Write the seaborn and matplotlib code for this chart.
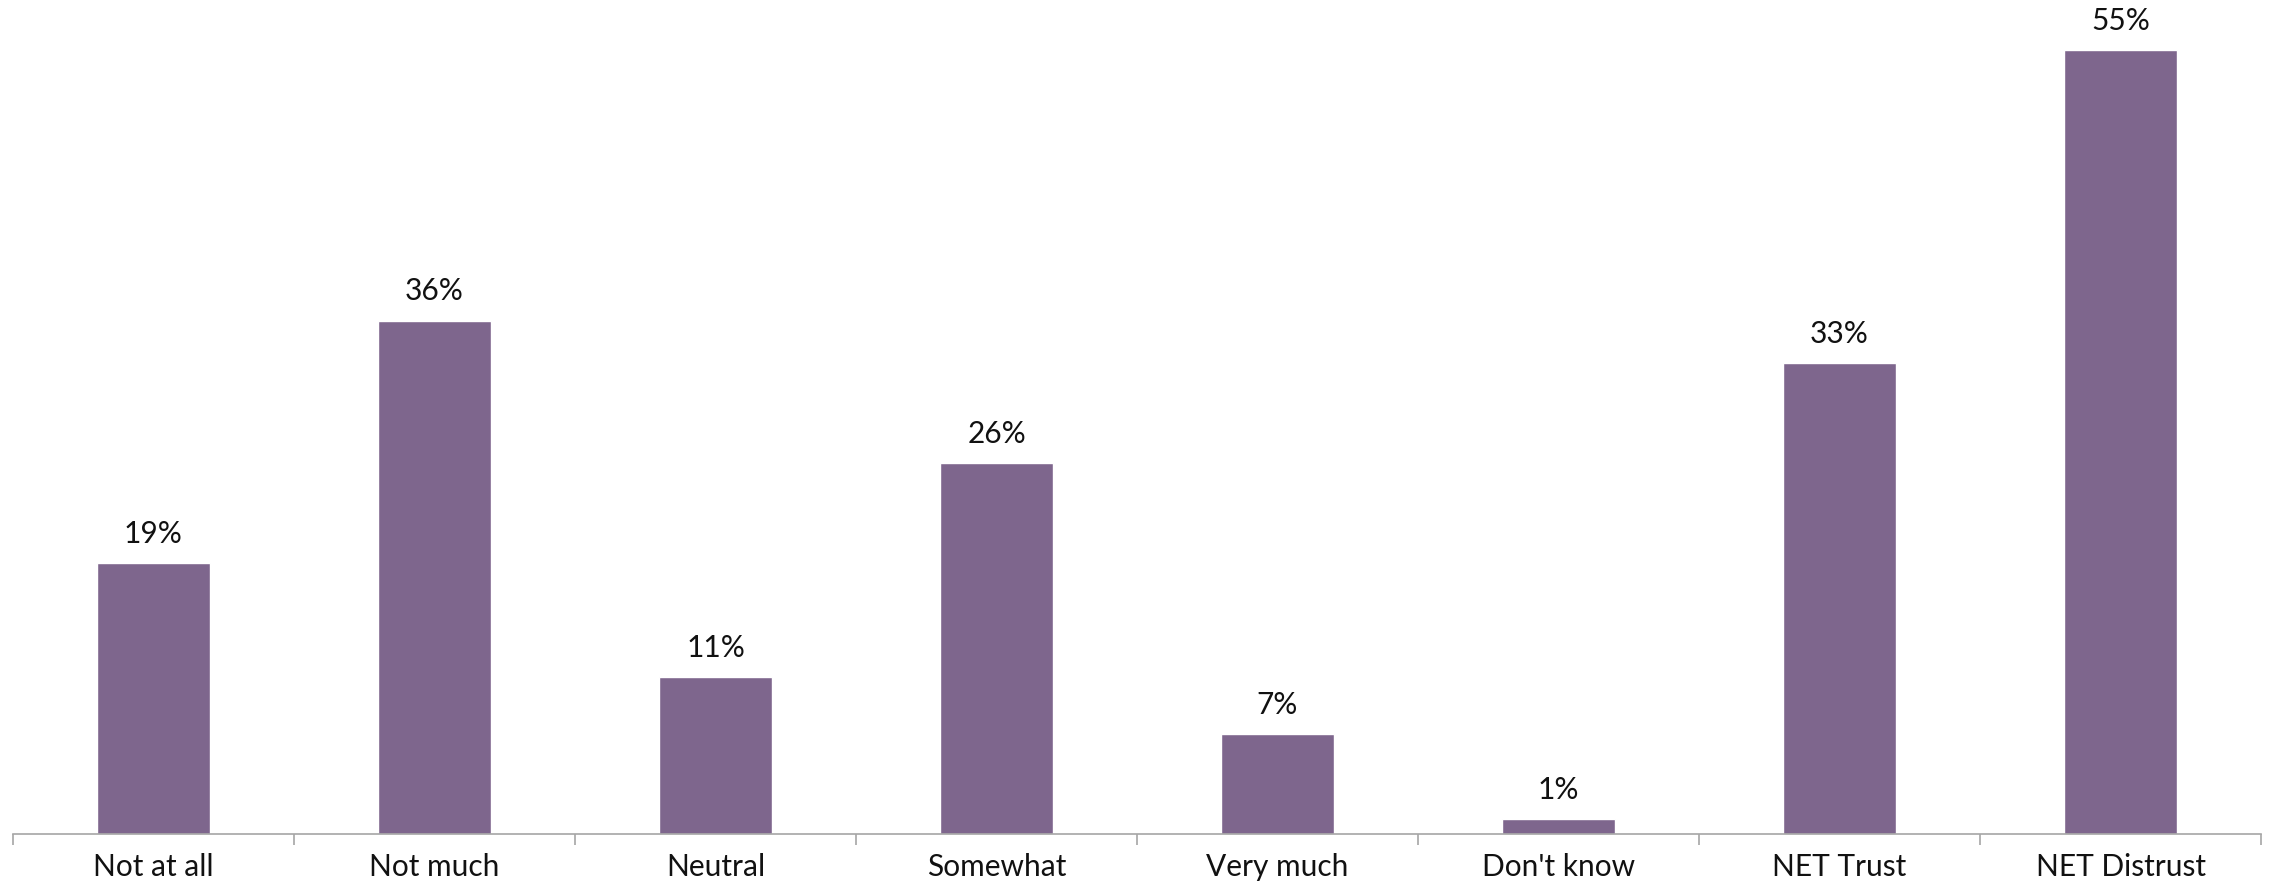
import pandas as pd
import matplotlib.pyplot as plt
import seaborn as sns

# --- data ---
categories = ["Not at all", "Not much", "Neutral", "Somewhat", "Very much",
              "Don't know", "NET Trust", "NET Distrust"]
values = [19, 36, 11, 26, 7, 1, 33, 55]

BAR_COLOR = "#7E668D"
AXIS_COLOR = "#A6A6A6"

sns.set_theme(style="white")
plt.rcParams['font.family'] = ['Lato', 'DejaVu Sans']

df = pd.DataFrame({"category": categories, "value": values})

fig = plt.figure(figsize=(22.7, 8.86), dpi=100)
ax = fig.add_axes([0.0057, 0.059, 0.9904, 0.941])

sns.barplot(data=df, x="category", y="value", color=BAR_COLOR,
            width=0.4, saturation=1, ax=ax)

ax.set_ylim(0, 58.5)
ax.set_xlim(-0.5, len(categories) - 0.5)

# value labels above bars
for i, v in enumerate(values):
    ax.annotate(f"{v}%", (i, v), xytext=(0, 11), textcoords="offset points",
                ha="center", va="bottom", fontsize=21.5, color="#111111")

# axes styling
for side in ["left", "right", "top"]:
    ax.spines[side].set_visible(False)
ax.spines["bottom"].set_color(AXIS_COLOR)
ax.spines["bottom"].set_linewidth(1.2)
ax.set_yticks([])
ax.set_xlabel("")
ax.set_ylabel("")

# ticks sit between categories, labels centered under bars
ax.set_xticks([i - 0.5 for i in range(len(categories) + 1)], minor=False)
ax.set_xticklabels([])
ax.tick_params(axis="x", which="major", length=8, width=1.2, color=AXIS_COLOR,
               bottom=True, direction="out")
ax.set_xticks(range(len(categories)), minor=True)
ax.set_xticklabels(categories, minor=True, fontsize=21.5, color="#111111")
ax.tick_params(axis="x", which="minor", length=0, pad=14)

fig.savefig("out.png", dpi=100)
